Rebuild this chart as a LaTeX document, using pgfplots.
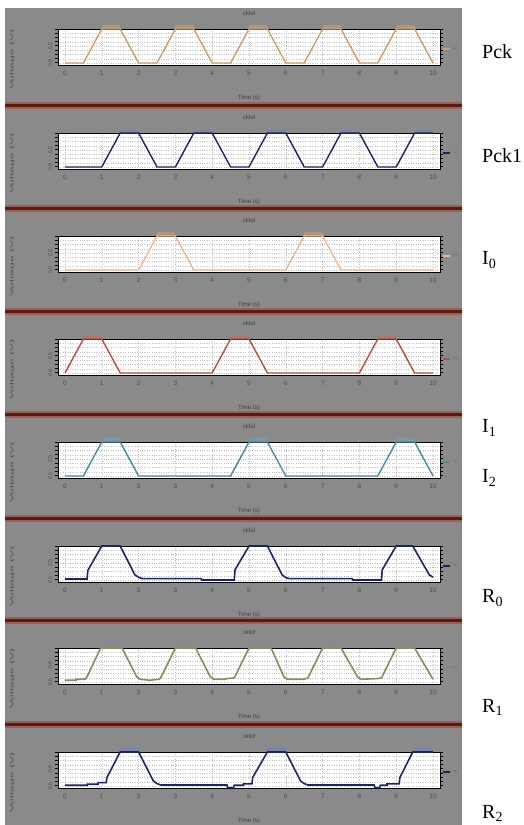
\documentclass[border=0pt]{standalone}
\usepackage{pgfplots}
\pgfplotsset{compat=1.18}
\usepackage{fontspec}
\setmainfont{Liberation Serif}
\newfontfamily\axg{Liberation Sans}
\definecolor{bg}{HTML}{8A8A8A}
\definecolor{sepout}{HTML}{9A6058}
\definecolor{sepin}{HTML}{5A1A12}
\definecolor{pckc}{HTML}{C9A06E}
\definecolor{pckg}{HTML}{E0A868}
\definecolor{navy}{HTML}{1E2566}
\definecolor{navyg}{HTML}{6A78D8}
\definecolor{ioc}{HTML}{EDB892}
\definecolor{iog}{HTML}{E8A070}
\definecolor{ionec}{HTML}{B4503F}
\definecolor{ioneg}{HTML}{E06050}
\definecolor{itwoc}{HTML}{4A8AA0}
\definecolor{itwog}{HTML}{70A8C8}
\definecolor{olive}{HTML}{8C8A5E}
\pgfplotsset{
 panel/.style={
  scale only axis, width=382pt, height=36pt, anchor=north west,
  xmin=-0.19, xmax=10.19, ymin=-0.06, ymax=1,
  clip=false,
  axis background/.style={fill=white},
  axis line style={black, line width=0.9pt},
  xtick={0,...,10}, ytick={0,0.5,1}, yticklabels={0.0,0.5,{}},
  minor ytick={0.125,0.25,0.375,0.625,0.75,0.875},
  ymajorgrids, yminorgrids, xmajorgrids,
  major grid style={black!25, dotted, line width=0.4pt},
  minor grid style={black!25, dotted, line width=0.4pt},
  xtick style={draw=none},
  ytick style={black, line width=1pt},
  tick align=outside, major tick length=2.5pt, minor tick length=2.5pt,
  /pgf/number format/assume math mode=true,
  tick label style={font=\axg\fontsize{6.5}{6.5}\selectfont, text=black!70},
  yticklabel style={rotate=90, anchor=south, font=\axg\fontsize{5}{5}\selectfont},
  title={ckkd},
  title style={font=\axg\fontsize{6}{6}\selectfont, at={(axis description cs:0.5,1)}, anchor=center, yshift=10pt, text=black!75},
  xlabel={Time (s)},
  xlabel style={font=\axg\fontsize{6}{6}\selectfont, at={(axis description cs:0.5,0)}, anchor=center, yshift=-33pt, text=black!75},
  ylabel={\scalebox{2.2}[0.8]{Voltage (V)}},
  ylabel style={font=\axg\fontsize{5.5}{5.5}\selectfont, at={(axis description cs:-0.12,0.15)}, anchor=center, text=black!70},
  legend style={at={(axis description cs:1.004,0.45)}, anchor=west, draw=none, fill=none,
    font=\axg\fontsize{3}{3}\selectfont, text=black!60, inner sep=0pt, row sep=0pt},
  legend image code/.code={\draw[#1, line width=1.8pt] (0pt,0pt) -- (7pt,0pt);},
  unbounded coords=jump,
 },
 trace/.style={line width=1.4pt, mark=none},
 glow/.style={line width=4pt, opacity=0.45, mark=none, forget plot},
}
\begin{document}
\begin{tikzpicture}
\useasboundingbox (0,0) rectangle (523pt,-825pt);
\fill[white] (0,0) rectangle (523pt,-825pt);
\fill[bg] (5pt,-8pt) rectangle (462pt,-825pt);
\foreach \y in {105.5,208.5,311,414,518,620.5,724}{
  \fill[sepout] (5pt,{-(\y-3.5)*1pt}) rectangle (462pt,{-(\y+3.5)*1pt});
  \fill[sepin] (5pt,{-(\y-1.5)*1pt}) rectangle (462pt,{-(\y+1.5)*1pt});
}
% Pck
\begin{axis}[panel, at={(58pt,-29pt)}]
\addplot[glow, color=pckg] coordinates {(1,1.05)(1.5,1.05)(1.5,nan)(3,1.05)(3.5,1.05)(3.5,nan)(5,1.05)(5.5,1.05)(5.5,nan)(7,1.05)(7.5,1.05)(7.5,nan)(9,1.05)(9.5,1.05)};
\addplot[trace, color=pckc] coordinates {(0,0)(0.5,0)(1,1)(1.5,1)(2,0)(2.5,0)(3,1)(3.5,1)(4,0)(4.5,0)(5,1)(5.5,1)(6,0)(6.5,0)(7,1)(7.5,1)(8,0)(8.5,0)(9,1)(9.5,1)(10,0)};
\addlegendentry{v(1)}
\end{axis}
% Pck1
\begin{axis}[panel, at={(58pt,-133pt)}]
\addplot[glow, color=navyg, opacity=0.25] coordinates {(1.5,1.04)(2,1.04)(2,nan)(3.5,1.04)(4,1.04)(4,nan)(5.5,1.04)(6,1.04)(6,nan)(7.5,1.04)(8,1.04)(8,nan)(9.5,1.04)(10,1.04)};
\addplot[trace, color=navy] coordinates {(0,0)(1,0)(1.5,1)(2,1)(2.5,0)(3,0)(3.5,1)(4,1)(4.5,0)(5,0)(5.5,1)(6,1)(6.5,0)(7,0)(7.5,1)(8,1)(8.5,0)(9,0)(9.5,1)(10,1)};
\addlegendentry{v(2)}
\end{axis}
% I0
\begin{axis}[panel, at={(58pt,-236pt)}]
\addplot[glow, color=iog] coordinates {(2.5,1.05)(3,1.05)(3,nan)(6.5,1.05)(7,1.05)};
\addplot[trace, color=ioc] coordinates {(0,0)(2,0)(2.5,1)(3,1)(3.5,0)(6,0)(6.5,1)(7,1)(7.5,0)(10,0)};
\addlegendentry{v(3)}
\end{axis}
% I1
\begin{axis}[panel, at={(58pt,-339pt)}]
\addplot[glow, color=ioneg] coordinates {(0.5,1.05)(1,1.05)(1,nan)(4.5,1.05)(5,1.05)(5,nan)(8.5,1.05)(9,1.05)};
\addplot[trace, color=ionec] coordinates {(0,0)(0.5,1)(1,1)(1.5,0)(4,0)(4.5,1)(5,1)(5.5,0)(8,0)(8.5,1)(9,1)(9.5,0)(10,0)};
\addlegendentry{v(4)}
\end{axis}
% I2
\begin{axis}[panel, at={(58pt,-442pt)}]
\addplot[glow, color=itwog] coordinates {(1,1.05)(1.5,1.05)(1.5,nan)(5,1.05)(5.5,1.05)(5.5,nan)(9,1.05)(9.5,1.05)};
\addplot[trace, color=itwoc] coordinates {(0,0)(0.5,0)(1,1)(1.5,1)(2,0)(4.5,0)(5,1)(5.5,1)(6,0)(8.5,0)(9,1)(9.5,1)(10,0)};
\addlegendentry{v(5)}
\end{axis}
% R0
\begin{axis}[panel, at={(58pt,-546pt)}]
\addplot[trace, line width=1.6pt, color=navy] coordinates {(0,0.03)(0.6,0.03)(0.62,0.28)(1.0,1)(1.5,1)(1.9,0.15)(2.0,0.08)(2.1,0.04)(3.7,0.04)(3.72,0.0)(4.6,0.0)(4.62,0.3)(5.0,1)(5.5,1)(5.9,0.15)(6.0,0.07)(6.1,0.04)(7.8,0.04)(7.82,0)(8.6,0)(8.62,0.3)(9.0,1)(9.45,1)(9.9,0.15)(10,0.08)};
\addlegendentry{v(6)}
\end{axis}
% R1
\begin{axis}[panel, at={(58pt,-648pt)}]
\addplot[trace, line width=1.6pt, color=olive] coordinates {(0,0.05)(0.3,0.05)(0.3,0.08)(0.55,0.08)(0.58,0.12)(0.62,0.2)(0.97,1)(1.55,1)(1.95,0.15)(2.05,0.08)(2.3,0.05)(2.55,0.08)(2.6,0.12)(3.0,1)(3.55,1)(3.95,0.15)(4.05,0.08)(4.35,0.08)(4.4,0.1)(4.6,0.12)(5.0,1)(5.6,1)(5.95,0.15)(6.05,0.08)(6.5,0.08)(6.6,0.12)(7.0,1)(7.5,1)(7.95,0.15)(8.05,0.08)(8.5,0.1)(8.6,0.12)(9.0,1)(9.5,1)(10,0.08)};
\addlegendentry{v(7)}
\end{axis}
% R2
\begin{axis}[panel, at={(58pt,-752pt)}]
\addplot[glow, color=navyg] coordinates {(1.5,1.05)(2,1.05)(2,nan)(5.5,1.05)(6,1.05)(6,nan)(9.45,1.05)(10,1.05)};
\addplot[trace, line width=1.6pt, color=navy] coordinates {(0,0.02)(0.6,0.02)(0.6,0.05)(0.9,0.05)(0.9,0.1)(1.12,0.1)(1.14,0.25)(1.5,1)(2.0,1)(2.4,0.15)(2.5,0.07)(2.6,0.03)(4.4,0.03)(4.42,-0.05)(4.58,-0.05)(4.6,0.02)(4.85,0.02)(4.85,0.06)(5.08,0.06)(5.1,0.25)(5.5,1)(6.0,1)(6.4,0.15)(6.5,0.07)(6.6,0.03)(8.4,0.03)(8.42,-0.05)(8.55,-0.05)(8.57,0.02)(8.75,0.02)(8.75,0.06)(9.08,0.06)(9.1,0.25)(9.45,1)(10,1)};
\addlegendentry{v(8)}
\end{axis}
% right labels
\begin{scope}[every node/.style={anchor=west, font=\fontsize{20}{20}\selectfont, inner sep=0pt}]
\node at (482pt,-52pt) {Pck};
\node at (482pt,-156pt) {Pck1};
\node at (482pt,-260pt) {I\textsubscript{0}};
\node at (482pt,-428pt) {I\textsubscript{1}};
\node at (482pt,-478pt) {I\textsubscript{2}};
\node at (482pt,-598pt) {R\textsubscript{0}};
\node at (482pt,-707pt) {R\textsubscript{1}};
\node at (482pt,-813pt) {R\textsubscript{2}};
\end{scope}
\end{tikzpicture}
\end{document}
